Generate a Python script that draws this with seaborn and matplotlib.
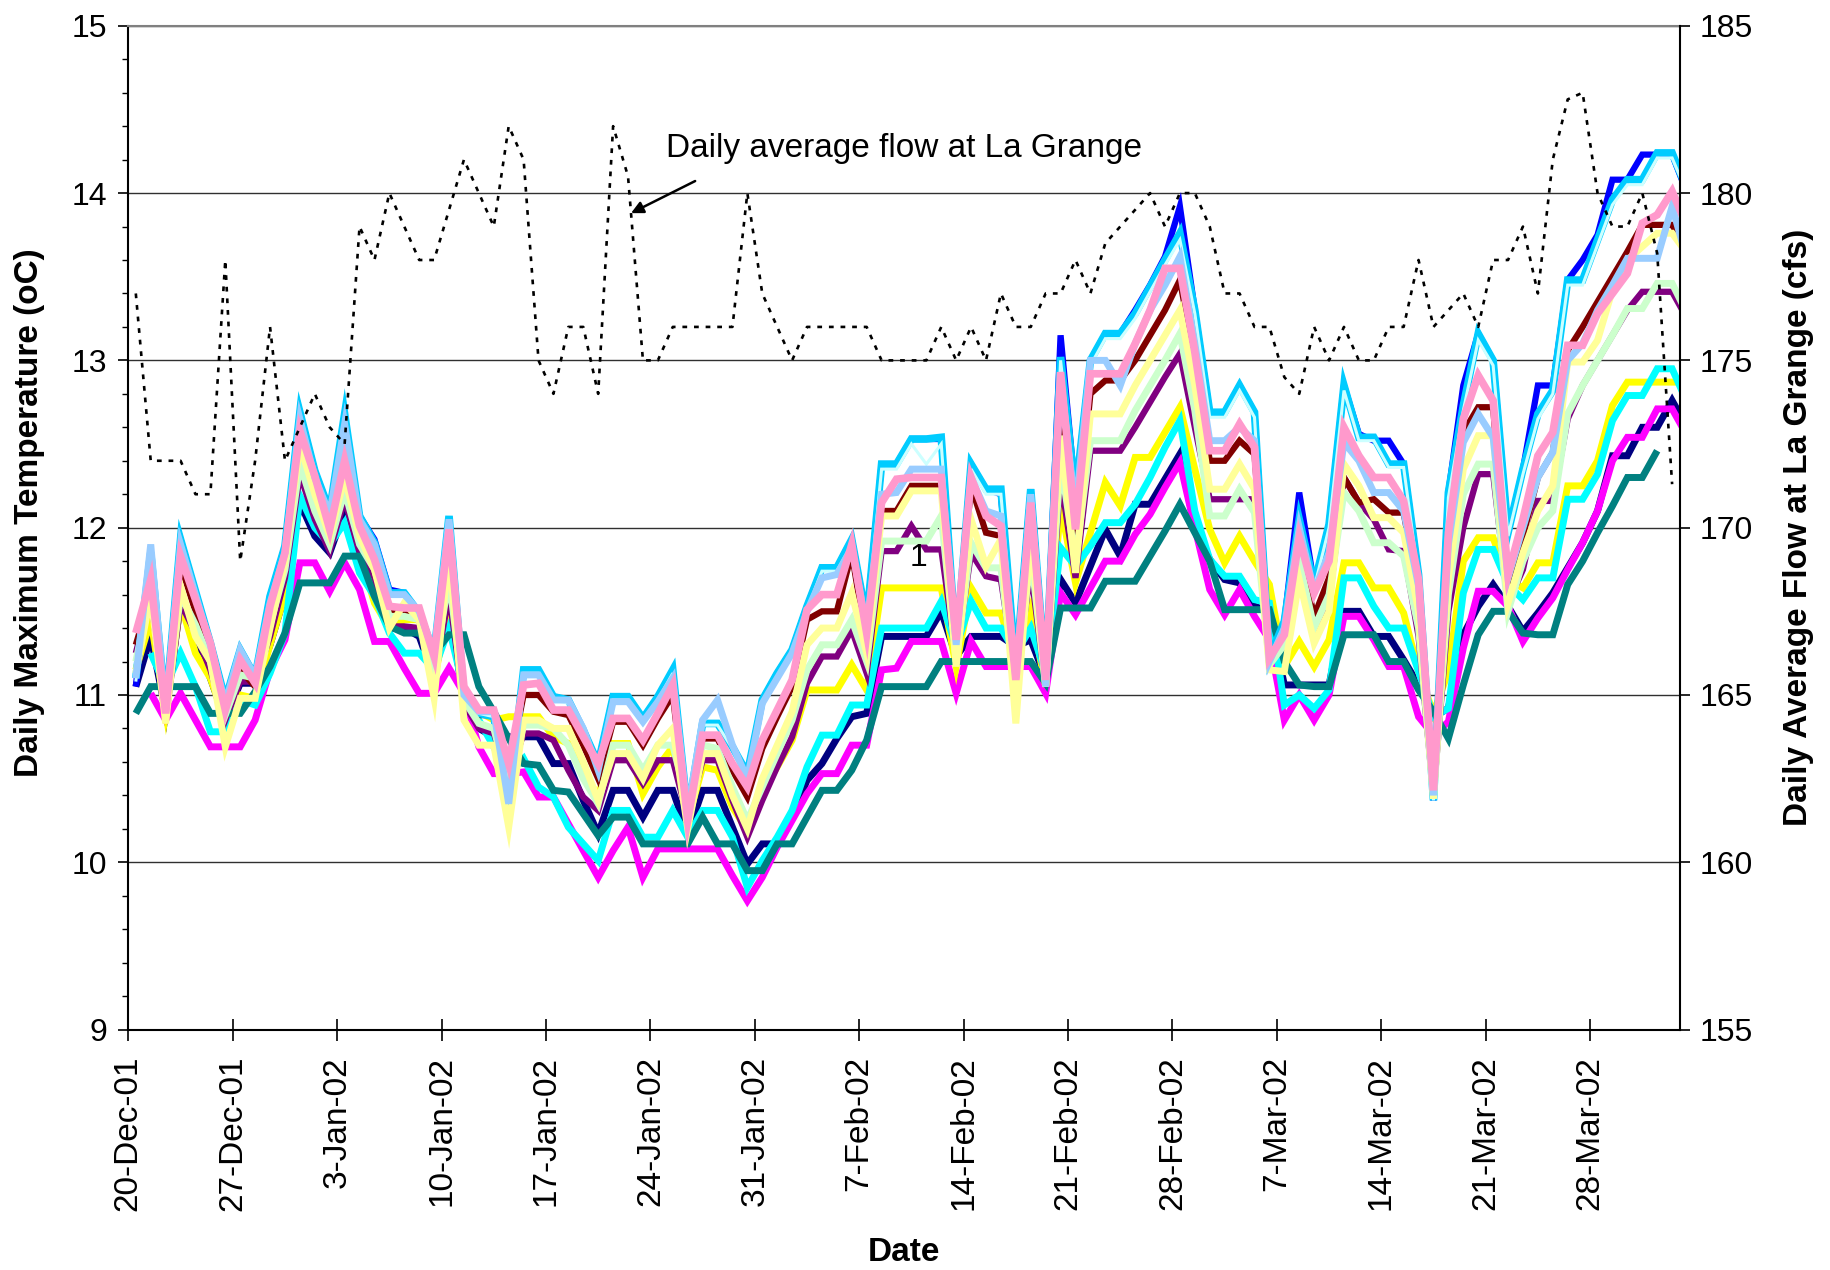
import numpy as np
import pandas as pd
import matplotlib
matplotlib.use("Agg")
import matplotlib.pyplot as plt
import matplotlib.dates as mdates
from matplotlib.ticker import MultipleLocator
import seaborn as sns

start = pd.Timestamp("2001-12-20")
dates = pd.date_range(start, periods=105, freq="D")
tick_labels = ["20-Dec-01", "27-Dec-01", "3-Jan-02", "10-Jan-02", "17-Jan-02",
               "24-Jan-02", "31-Jan-02", "7-Feb-02", "14-Feb-02", "21-Feb-02",
               "28-Feb-02", "7-Mar-02", "14-Mar-02", "21-Mar-02", "28-Mar-02"]

nan = np.nan

# daily maximum temperature (oC), one list per series, 20-Dec-01 onward
navy = [11.05, 11.35, 10.90, 11.55, 11.35, 11.10, 10.85, 11.07, 11.07, 11.30,
        11.60, 12.15, 11.95, 11.85, 12.10, 11.80, 11.60, 11.40, 11.40, 11.35,
        11.10, 11.55, 10.95, 10.80, 10.75, 10.75, 10.75, 10.75, 10.59, 10.59,
        10.37, 10.17, 10.43, 10.43, 10.27, 10.43, 10.43, 10.17, 10.43, 10.43,
        10.21, 9.99, 10.11, 10.11, 10.27, 10.49, 10.59, 10.74, 10.87, 10.89,
        11.35, 11.35, 11.35, 11.35, 11.50, 11.23, 11.35, 11.35, 11.35, 11.29,
        11.33, 11.10, 11.69, 11.55, 11.77, 11.99, 11.83, 12.14, 12.14, 12.29,
        12.44, 12.00, 11.81, 11.69, 11.67, 11.53, 11.50, 11.06, 11.06, 11.06,
        11.06, 11.50, 11.50, 11.35, 11.35, 11.21, 11.06, 10.87, 10.92, 11.36,
        11.53, 11.66, 11.53, 11.38, 11.49, 11.61, 11.76, 11.91, 12.10, 12.43,
        12.43, 12.60, 12.60, 12.76, 12.60]
magenta = [nan, 11.01, 10.85, 11.01, 10.85, 10.69, 10.69, 10.69, 10.85, 11.15,
           11.33, 11.79, 11.79, 11.62, 11.79, 11.63, 11.32, 11.32, 11.16, 11.01,
           11.01, 11.16, 11.01, 10.69, 10.53, 10.53, 10.54, 10.39, 10.39, 10.23,
           10.07, 9.91, 10.07, 10.21, 9.91, 10.08, 10.08, 10.08, 10.08, 10.08,
           9.92, 9.77, 9.91, 10.09, 10.25, 10.41, 10.53, 10.53, 10.70, 10.70,
           11.15, 11.16, 11.32, 11.32, 11.32, 11.01, 11.32, 11.17, 11.17, 11.17,
           11.17, 11.01, 11.61, 11.48, 11.64, 11.80, 11.80, 11.96, 12.08, 12.24,
           12.39, 12.00, 11.63, 11.48, 11.63, 11.47, 11.33, 10.85, 11.00, 10.85,
           11.00, 11.47, 11.47, 11.33, 11.17, 11.17, 10.87, 10.76, 10.84, 11.28,
           11.62, 11.62, 11.53, 11.32, 11.46, 11.58, 11.75, 11.91, 12.10, 12.40,
           12.54, 12.54, 12.71, 12.71, 12.55]
yellow = [11.15, 11.45, 10.90, 11.55, 11.25, 11.10, 10.85, 11.00, 10.98, 11.30,
          11.60, 12.40, 12.15, 11.95, 12.25, 11.85, 11.55, 11.40, 11.45, 11.45,
          11.10, 11.50, 11.00, 10.90, 10.85, 10.87, 10.87, 10.87, 10.75, 10.71,
          10.55, 10.39, 10.71, 10.71, 10.41, 10.57, 10.69, 10.25, 10.57, 10.55,
          10.33, 10.19, 10.43, 10.57, 10.73, 11.03, 11.03, 11.03, 11.18, 11.03,
          11.64, 11.64, 11.64, 11.64, 11.64, 11.17, 11.64, 11.49, 11.49, 11.20,
          11.51, 11.05, 12.13, 11.67, 11.97, 12.27, 12.13, 12.42, 12.42, 12.57,
          12.72, 12.35, 11.99, 11.79, 11.95, 11.80, 11.66, 11.17, 11.32, 11.17,
          11.33, 11.79, 11.79, 11.64, 11.64, 11.49, 11.14, 10.89, 11.14, 11.80,
          11.94, 11.94, 11.69, 11.64, 11.79, 11.79, 12.25, 12.25, 12.40, 12.73,
          12.87, 12.87, 12.87, 12.87, 12.87]
cyan = [nan, 11.25, 11.05, 11.25, 11.05, 10.78, 10.78, 10.97, 10.94, 11.13,
        11.37, 12.19, 12.00, 11.90, 12.03, 11.73, 11.59, 11.37, 11.25, 11.25,
        11.15, 11.40, 11.03, 10.85, 10.69, 10.53, 10.62, 10.45, 10.39, 10.21,
        10.11, 10.01, 10.31, 10.31, 10.15, 10.15, 10.31, 10.15, 10.31, 10.31,
        10.15, 9.85, 10.01, 10.15, 10.31, 10.57, 10.76, 10.76, 10.94, 10.94,
        11.40, 11.40, 11.40, 11.40, 11.56, 11.29, 11.56, 11.40, 11.40, 11.25,
        11.40, 11.13, 11.88, 11.77, 11.89, 12.03, 12.03, 12.14, 12.30, 12.48,
        12.64, 12.10, 11.81, 11.71, 11.71, 11.57, 11.55, 10.94, 11.00, 10.92,
        11.03, 11.70, 11.70, 11.53, 11.40, 11.40, 11.14, 10.87, 10.92, 11.61,
        11.87, 11.87, 11.66, 11.57, 11.70, 11.70, 12.17, 12.17, 12.32, 12.64,
        12.79, 12.79, 12.95, 12.95, 12.75]
purple = [11.25, 11.60, 10.85, 11.55, 11.37, 11.15, 10.85, 11.08, 11.08, 11.35,
          11.70, 12.32, 12.05, 11.86, 12.17, 11.85, 11.70, 11.41, 11.41, 11.40,
          11.10, 11.60, 10.95, 10.80, 10.77, 10.50, 10.77, 10.77, 10.73, 10.55,
          10.39, 10.31, 10.61, 10.61, 10.47, 10.61, 10.61, 10.27, 10.61, 10.61,
          10.37, 10.15, 10.37, 10.57, 10.75, 11.07, 11.23, 11.23, 11.39, 11.13,
          11.86, 11.86, 12.01, 11.87, 11.87, 11.23, 11.85, 11.71, 11.69, 11.10,
          11.75, 11.05, 12.30, 11.70, 12.46, 12.46, 12.46, 12.60, 12.75, 12.90,
          13.04, 12.60, 12.17, 12.17, 12.17, 12.17, 11.20, 11.30, 11.75, 11.39,
          11.55, 12.30, 12.15, 12.05, 11.87, 11.86, 11.35, 10.40, 11.50, 12.00,
          12.32, 12.32, 11.55, 11.75, 12.16, 12.16, 12.65, 12.85, 13.00, 13.15,
          13.30, 13.41, 13.41, 13.41, 13.25]
darkred = [11.30, 11.60, 10.87, 11.78, 11.50, 11.25, 10.90, 11.15, 11.05, 11.50,
           11.80, 12.50, 12.25, 11.95, 12.30, 11.97, 11.75, 11.50, 11.50, 11.50,
           11.20, 11.95, 11.00, 10.88, 10.88, 10.55, 11.00, 11.00, 10.90, 10.88,
           10.70, 10.50, 10.84, 10.84, 10.70, 10.86, 11.00, 10.25, 10.74, 10.74,
           10.55, 10.39, 10.68, 10.87, 11.05, 11.45, 11.50, 11.50, 11.85, 11.30,
           12.10, 12.10, 12.25, 12.25, 12.25, 11.30, 12.25, 11.97, 11.95, 11.05,
           12.05, 11.05, 12.70, 11.90, 12.80, 12.88, 12.88, 13.00, 13.15, 13.30,
           13.48, 13.00, 12.40, 12.40, 12.52, 12.44, 11.25, 11.35, 11.88, 11.47,
           11.70, 12.30, 12.15, 12.17, 12.09, 12.09, 11.60, 10.40, 11.90, 12.57,
           12.72, 12.72, 11.60, 11.95, 12.30, 12.45, 13.06, 13.20, 13.35, 13.50,
           13.65, 13.81, 13.81, 13.81, 13.66]
teal = [10.89, 11.05, 11.05, 11.05, 11.05, 10.89, 10.89, 10.89, 11.02, 11.17,
        11.37, 11.67, 11.67, 11.67, 11.83, 11.83, 11.59, 11.41, 11.37, 11.37,
        11.25, 11.36, 11.36, 11.05, 10.90, 10.74, 10.59, 10.58, 10.43, 10.42,
        10.29, 10.16, 10.27, 10.27, 10.11, 10.11, 10.11, 10.11, 10.27, 10.11,
        10.11, 9.95, 9.95, 10.11, 10.11, 10.27, 10.43, 10.43, 10.55, 10.73,
        11.05, 11.05, 11.05, 11.05, 11.20, 11.20, 11.20, 11.20, 11.20, 11.20,
        11.20, 11.07, 11.52, 11.52, 11.52, 11.68, 11.68, 11.68, 11.83, 11.98,
        12.14, 11.97, 11.80, 11.51, 11.51, 11.51, 11.51, 11.20, 11.06, 11.05,
        11.05, 11.36, 11.36, 11.36, 11.20, 11.20, 11.03, 10.90, 10.74, 11.06,
        11.36, 11.50, 11.50, 11.37, 11.36, 11.36, 11.66, 11.80, 11.97, 12.13,
        12.30, 12.30, 12.46, nan, nan]
blue = [11.05, 11.85, 10.92, 11.93, 11.62, 11.31, 10.97, 11.27, 11.11, 11.59,
        11.89, 12.69, 12.34, 12.10, 12.66, 12.07, 11.93, 11.63, 11.61, 11.49,
        11.25, 12.05, 10.99, 10.89, 10.87, 10.37, 11.13, 11.13, 10.99, 10.97,
        10.79, 10.59, 10.99, 10.97, 10.86, 10.99, 11.13, 10.29, 10.83, 10.83,
        10.69, 10.53, 10.97, 11.13, 11.27, 11.53, 11.76, 11.76, 11.93, 11.45,
        12.38, 12.38, 12.53, 12.53, 12.53, 11.28, 12.38, 12.23, 12.20, 11.15,
        12.23, 11.10, 13.15, 12.20, 13.00, 13.16, 13.16, 13.30, 13.45, 13.62,
        13.92, 13.30, 12.69, 12.69, 12.85, 12.69, 11.22, 11.44, 12.21, 11.66,
        12.02, 12.85, 12.56, 12.52, 12.52, 12.38, 11.72, 10.37, 12.21, 12.85,
        13.16, 13.00, 11.97, 12.35, 12.85, 12.85, 13.48, 13.60, 13.75, 14.08,
        14.08, 14.23, 14.23, 14.23, 14.00]
skyblue = [11.10, 11.85, 10.92, 11.93, 11.62, 11.31, 10.97, 11.27, 11.11, 11.59,
           11.89, 12.69, 12.34, 12.10, 12.68, 12.07, 11.91, 11.61, 11.61, 11.49,
           11.25, 12.07, 10.99, 10.89, 10.87, 10.37, 11.15, 11.15, 10.99, 10.97,
           10.79, 10.59, 10.99, 10.99, 10.86, 10.99, 11.15, 10.29, 10.83, 10.83,
           10.69, 10.53, 10.97, 11.13, 11.27, 11.53, 11.76, 11.76, 11.93, 11.45,
           12.38, 12.38, 12.53, 12.53, 12.54, 11.28, 12.38, 12.23, 12.23, 11.15,
           12.23, 11.10, 13.02, 12.20, 13.00, 13.16, 13.16, 13.28, 13.44, 13.60,
           13.76, 13.30, 12.69, 12.69, 12.85, 12.69, 11.22, 11.44, 12.05, 11.66,
           12.02, 12.85, 12.54, 12.54, 12.38, 12.38, 11.72, 10.37, 12.21, 12.73,
           13.16, 13.00, 11.97, 12.35, 12.68, 12.82, 13.48, 13.48, 13.72, 13.96,
           14.08, 14.08, 14.24, 14.24, 14.02]
lightcyan = [11.08, 11.83, 10.92, 11.90, 11.60, 11.30, 10.97, 11.25, 11.10, 11.57,
             11.87, 12.66, 12.32, 12.08, 12.65, 12.05, 11.90, 11.60, 11.60, 11.48,
             11.24, 12.05, 10.99, 10.89, 10.87, 10.37, 11.13, 11.13, 10.97, 10.95,
             10.77, 10.58, 10.97, 10.97, 10.85, 10.97, 11.13, 10.29, 10.82, 10.82,
             10.68, 10.52, 10.95, 11.11, 11.25, 11.51, 11.74, 11.74, 11.90, 11.43,
             12.35, 12.35, 12.50, 12.38, 12.50, 11.28, 12.35, 12.20, 12.20, 11.15,
             12.20, 11.10, 13.00, 12.18, 12.97, 13.13, 13.13, 13.25, 13.41, 13.57,
             13.72, 13.28, 12.66, 12.66, 12.82, 12.66, 11.22, 11.42, 12.02, 11.64,
             12.00, 12.82, 12.52, 12.52, 12.36, 12.36, 11.70, 10.37, 12.18, 12.70,
             13.12, 12.97, 11.95, 12.32, 12.65, 12.80, 13.45, 13.45, 13.69, 13.93,
             14.05, 14.05, 14.21, 14.21, 14.00]
lightgreen = [11.20, 11.62, 10.87, 11.60, 11.42, 11.20, 10.88, 11.12, 11.10, 11.42,
              11.75, 12.38, 12.10, 11.90, 12.22, 11.90, 11.75, 11.47, 11.47, 11.45,
              11.15, 11.70, 10.97, 10.83, 10.80, 10.45, 10.82, 10.82, 10.80, 10.70,
              10.50, 10.35, 10.70, 10.70, 10.55, 10.70, 10.70, 10.35, 10.70, 10.68,
              10.45, 10.25, 10.45, 10.65, 10.85, 11.15, 11.30, 11.30, 11.45, 11.20,
              11.92, 11.92, 11.92, 11.92, 12.07, 11.20, 11.91, 11.76, 11.76, 11.00,
              11.85, 11.05, 12.40, 11.80, 12.52, 12.52, 12.52, 12.70, 12.85, 13.00,
              13.16, 12.70, 12.07, 12.07, 12.23, 12.09, 11.18, 11.30, 11.80, 11.40,
              11.60, 12.21, 12.10, 11.91, 11.91, 11.83, 11.40, 10.40, 11.60, 12.20,
              12.38, 12.38, 11.50, 11.80, 12.00, 12.10, 12.68, 12.85, 13.00, 13.15,
              13.31, 13.31, 13.46, 13.46, 13.28]
lightyellow = [11.13, 11.60, 10.83, 11.65, 11.35, 11.20, 10.69, 10.98, 10.98, 11.40,
               11.80, 12.50, 12.20, 11.95, 12.30, 11.95, 11.75, 11.40, 11.55, 11.45,
               10.98, 11.85, 10.85, 10.70, 10.70, 10.21, 10.85, 10.85, 10.80, 10.80,
               10.60, 10.37, 10.65, 10.65, 10.50, 10.70, 10.80, 10.20, 10.65, 10.65,
               10.40, 10.20, 10.50, 10.70, 10.90, 11.30, 11.40, 11.40, 11.61, 11.25,
               12.07, 12.07, 12.22, 12.22, 12.22, 11.17, 12.05, 11.77, 11.93, 10.83,
               11.95, 11.05, 12.55, 11.73, 12.68, 12.68, 12.68, 12.85, 13.00, 13.15,
               13.30, 12.85, 12.23, 12.23, 12.38, 12.23, 11.15, 11.14, 11.69, 11.31,
               11.50, 12.38, 12.25, 12.06, 12.06, 11.97, 11.50, 10.38, 11.70, 12.35,
               12.55, 12.55, 11.55, 11.85, 12.10, 12.25, 12.99, 12.99, 13.12, 13.42,
               13.60, 13.68, 13.76, 13.76, 13.64]
lightblue = [11.10, 11.90, 10.90, 11.90, 11.60, 11.30, 10.95, 11.27, 11.11, 11.55,
             11.85, 12.65, 12.30, 12.08, 12.62, 12.05, 11.90, 11.60, 11.60, 11.50,
             11.25, 12.05, 11.00, 10.90, 10.90, 10.35, 11.12, 11.12, 10.97, 10.97,
             10.80, 10.55, 10.96, 10.96, 10.84, 10.96, 11.10, 10.30, 10.85, 10.97,
             10.70, 10.50, 10.95, 11.10, 11.25, 11.50, 11.70, 11.72, 11.88, 11.40,
             12.20, 12.21, 12.35, 12.35, 12.35, 11.30, 12.30, 12.10, 12.07, 11.10,
             12.20, 11.05, 12.90, 12.10, 13.00, 13.00, 12.85, 13.10, 13.30, 13.45,
             13.62, 13.10, 12.52, 12.52, 12.60, 12.52, 11.20, 11.40, 12.00, 11.62,
             11.85, 12.51, 12.40, 12.21, 12.21, 12.10, 11.65, 10.40, 11.90, 12.51,
             12.68, 12.54, 11.70, 12.00, 12.30, 12.45, 13.00, 13.10, 13.30, 13.45,
             13.61, 13.61, 13.61, 13.92, 13.60]
pink = [11.37, 11.69, 10.89, 11.83, 11.57, 11.31, 10.91, 11.21, 11.07, 11.53,
        11.85, 12.58, 12.31, 11.99, 12.40, 12.01, 11.81, 11.53, 11.52, 11.52,
        11.23, 11.99, 11.05, 10.91, 10.91, 10.59, 11.06, 11.07, 10.91, 10.91,
        10.75, 10.59, 10.86, 10.86, 10.73, 10.89, 11.06, 10.25, 10.76, 10.76,
        10.59, 10.45, 10.73, 10.91, 11.09, 11.51, 11.60, 11.60, 11.90, 11.37,
        12.15, 12.29, 12.30, 12.30, 12.30, 11.33, 12.30, 12.07, 12.01, 11.09,
        12.15, 11.09, 12.93, 11.99, 12.92, 12.92, 12.92, 13.10, 13.30, 13.55,
        13.55, 13.05, 12.46, 12.46, 12.62, 12.48, 11.22, 11.36, 11.94, 11.61,
        11.80, 12.60, 12.43, 12.30, 12.30, 12.16, 11.69, 10.43, 11.97, 12.65,
        12.91, 12.76, 11.72, 12.05, 12.43, 12.57, 13.09, 13.09, 13.28, 13.40,
        13.52, 13.82, 13.87, 14.01, 13.80]

# daily average flow at La Grange (cfs)
flow = [177, 172, 172, 172, 171, 171, 178, 169, 172, 176,
        172, 173, 174, 173, 172.5, 179, 178, 180, 179, 178,
        178, 179.5, 181, 180, 179, 182, 181, 175, 174, 176,
        176, 174, 182, 180.5, 175, 175, 176, 176, 176, 176,
        176, 180, 177, 176, 175, 176, 176, 176, 176, 176,
        175, 175, 175, 175, 176, 175, 176, 175, 177, 176,
        176, 177, 177, 178, 177, 178.5, 179, 179.5, 180, 179,
        180, 180, 179, 177, 177, 176, 176, 174.5, 174, 176,
        175, 176, 175, 175, 176, 176, 178, 176, 176.5, 177,
        176, 178, 178, 179, 177, 181, 182.8, 183, 180, 179,
        179, 180, 178.2, 171.3]

series = [("navy", navy), ("magenta", magenta), ("yellow", yellow), ("cyan", cyan),
          ("purple", purple), ("darkred", darkred), ("teal", teal), ("blue", blue),
          ("skyblue", skyblue), ("lightcyan", lightcyan), ("lightgreen", lightgreen),
          ("lightyellow", lightyellow), ("lightblue", lightblue), ("pink", pink)]

colors = {"navy": "#000080", "magenta": "#FF00FF", "yellow": "#FFFF00",
          "cyan": "#00FFFF", "purple": "#800080", "darkred": "#800000",
          "teal": "#008080", "blue": "#0000FF", "skyblue": "#00CCFF",
          "lightcyan": "#CCFFFF", "lightgreen": "#CCFFCC", "lightyellow": "#FFFF99",
          "lightblue": "#99CCFF", "pink": "#FF99CC"}
widths = {"navy": 5, "magenta": 5, "yellow": 5, "cyan": 5, "purple": 4.5,
          "darkred": 4.5, "teal": 5, "blue": 4.5, "skyblue": 5.5, "lightcyan": 2.2,
          "lightgreen": 5, "lightyellow": 5, "lightblue": 5, "pink": 5.5}

plt.rcParams["font.family"] = ["Liberation Sans", "DejaVu Sans"]

fig = plt.figure(figsize=(18.31, 12.70), dpi=100)
ax = fig.add_axes([0.0701, 0.1893, 0.9173 - 0.0701, 0.9797 - 0.1893])

xpts = dates + pd.Timedelta(hours=12)
for name, vals in series:
    sns.lineplot(x=xpts, y=vals, ax=ax, color=colors[name], linewidth=widths[name],
                 solid_joinstyle="miter", solid_capstyle="butt")

ax.set_ylim(9, 15)
ax.set_xlim(start, start + pd.Timedelta(days=104))
ax.yaxis.set_major_locator(MultipleLocator(1))
ax.yaxis.set_minor_locator(MultipleLocator(0.2))
ax.grid(axis="y", which="major", color="#303030", linewidth=1.0)
ax.set_axisbelow(True)

ticks = [start + pd.Timedelta(days=7 * i) for i in range(len(tick_labels))]
ax.set_xticks(ticks)
ax.set_xticklabels(tick_labels, rotation=90, fontsize=24)
ax.tick_params(axis="x", direction="inout", length=16, width=1.2, pad=11)
ax.tick_params(axis="y", which="major", direction="out", length=7.5, width=1.2,
               pad=8, labelsize=23)
ax.tick_params(axis="y", which="minor", direction="out", length=4, width=1.0)

for side in ["left", "bottom"]:
    ax.spines[side].set_color("black")
    ax.spines[side].set_linewidth(1.5)
ax.spines["top"].set_color("#808080")
ax.spines["top"].set_linewidth(1.5)
ax.spines["right"].set_visible(False)

ax.text(start + pd.Timedelta(days=52.96), 11.82, "1", ha="center", va="center",
        fontsize=23)

ax.set_xlabel("Date", fontsize=24, fontweight="bold", va="top")
ax.xaxis.set_label_coords(0.5, -0.207)
ax.set_ylabel("Daily Maximum Temperature (oC)", fontsize=24, fontweight="bold",
              va="center")
ax.yaxis.set_label_coords(-0.064, 0.515)

# flow on the secondary axis
ax2 = ax.twinx()
sns.lineplot(x=xpts[:len(flow)], y=flow, ax=ax2, color="black", linewidth=1.9,
             linestyle=(0, (1.8, 2.6)))
ax2.set_ylim(155, 185)
ax2.yaxis.set_major_locator(MultipleLocator(5))
ax2.tick_params(axis="y", direction="out", length=7.5, width=1.2, pad=7,
                labelsize=23)
ax2.spines["right"].set_color("black")
ax2.spines["right"].set_linewidth(1.5)
for side in ["left", "top", "bottom"]:
    ax2.spines[side].set_visible(False)
ax2.set_ylabel("Daily Average Flow at La Grange (cfs)", fontsize=24,
               fontweight="bold", va="center", rotation=90)
ax2.yaxis.set_label_coords(1.0764, 0.5)

head = (mdates.date2num(start + pd.Timedelta(days=33.7)), 179.4)
tail = (mdates.date2num(start + pd.Timedelta(days=38.0)), 180.36)
ax2.annotate("", xy=head, xytext=tail,
             arrowprops=dict(arrowstyle="-|>", color="black", lw=1.8,
                             mutation_scale=18, shrinkA=0, shrinkB=0))
ax2.text(mdates.date2num(start + pd.Timedelta(days=36.06)), 181.34,
         "Daily average flow at La Grange", fontsize=24, ha="left", va="center")

fig.savefig("out.png", dpi=100)
